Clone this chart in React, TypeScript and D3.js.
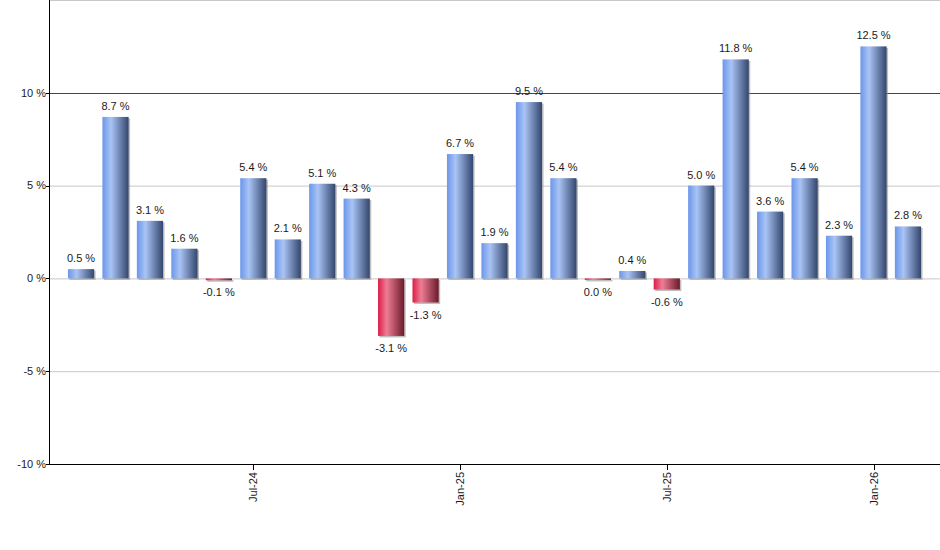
import React from "react";
import * as d3 from "d3";

const months = ["Feb-24","Mar-24","Apr-24","May-24","Jun-24","Jul-24","Aug-24","Sep-24","Oct-24","Nov-24","Dec-24","Jan-25","Feb-25","Mar-25","Apr-25","May-25","Jun-25","Jul-25","Aug-25","Sep-25","Oct-25","Nov-25","Dec-25","Jan-26","Feb-26"];
const values = [0.5, 8.7, 3.1, 1.6, -0.1, 5.4, 2.1, 5.1, 4.3, -3.1, -1.3, 6.7, 1.9, 9.5, 5.4, -0.04, 0.4, -0.6, 5.0, 11.8, 3.6, 5.4, 2.3, 12.5, 2.8];
const yTicks = [-10, -5, 0, 5, 10];
const gridValues = [15, 5, 0, -5];
const xTickLabels = ["Jul-24", "Jan-25", "Jul-25", "Jan-26"];

const W = 940, H = 550;
const left = 49, right = 940, top = 0, bottom = 464;
const font = "'Liberation Sans', Arial, sans-serif";

function fmt(v: number) {
  const s = v.toFixed(1);
  return (s === "-0.0" ? "0.0" : s) + " %";
}

export default function App() {
  const x = d3.scaleBand<string>().domain(months).range([left, right]).paddingInner(0.24).paddingOuter(0.55);
  const y = d3.scaleLinear().domain([-10, 15]).range([bottom, top]);
  const bw = x.bandwidth();
  return (
    <svg width={W} height={H} style={{ position: "absolute", left: 0, top: 0, background: "#fff" }}>
      <defs>
        <linearGradient id="gBlue" x1="0" x2="1" y1="0" y2="0">
          <stop offset="0%" stopColor="#6b96ea" />
          <stop offset="33%" stopColor="#a9c4f5" />
          <stop offset="100%" stopColor="#33466d" />
        </linearGradient>
        <linearGradient id="gRed" x1="0" x2="1" y1="0" y2="0">
          <stop offset="0%" stopColor="#dc1d47" />
          <stop offset="33%" stopColor="#ee7d93" />
          <stop offset="100%" stopColor="#6a1a2b" />
        </linearGradient>
      </defs>
      {gridValues.map((v) => (
        <line key={"g" + v} x1={left} x2={right} y1={y(v) + 0.5} y2={y(v) + 0.5} stroke="#c8c8c8" strokeWidth={1} />
      ))}
      <line x1={left} x2={right} y1={Math.round(y(10)) + 0.5} y2={Math.round(y(10)) + 0.5} stroke="#0a6e0a" strokeWidth={1} />
      {values.map((v, i) => {
        const bx = x(months[i])!;
        const y0 = y(0), y1 = y(v);
        const ry = Math.min(y0, y1);
        const rh = Math.max(Math.abs(y1 - y0), 1.5);
        return (
          <g key={"b" + i}>
            <rect x={bx + 1.5} y={ry + 1.5} width={bw} height={rh} fill="#8a8a8a" opacity={0.55} />
            <rect x={bx} y={ry} width={bw} height={rh} fill={v < 0 ? "url(#gRed)" : "url(#gBlue)"} />
          </g>
        );
      })}
      {values.map((v, i) => {
        const cx = x(months[i])! + bw / 2;
        const yy = v < 0 ? Math.max(y(v), y(0) + 1.5) + 16 : y(v) - 7;
        return (
          <text key={"l" + i} x={cx} y={yy} textAnchor="middle" fontFamily={font} fontSize={11} fill="#1a1a1a">
            {fmt(v)}
          </text>
        );
      })}
      <line x1={left + 0.5} x2={left + 0.5} y1={top} y2={bottom} stroke="#000" strokeWidth={1} />
      <line x1={left} x2={right} y1={bottom + 0.5} y2={bottom + 0.5} stroke="#000" strokeWidth={1} />
      {yTicks.map((t) => (
        <g key={"yt" + t}>
          <line x1={left - 3} x2={left} y1={Math.round(y(t)) + 0.5} y2={Math.round(y(t)) + 0.5} stroke="#000" />
          <text x={left - 3} y={y(t)} dy="0.35em" textAnchor="end" fontFamily={font} fontSize={11} fill="#1a1a1a">
            {t + " %"}
          </text>
        </g>
      ))}
      {xTickLabels.map((m) => {
        const cx = Math.round(x(m)! + bw / 2) + 0.5;
        return (
          <g key={"xt" + m}>
            <line x1={cx} x2={cx} y1={bottom} y2={bottom + 6} stroke="#000" />
            <text transform={`translate(${cx},${bottom + 8}) rotate(-90)`} dy="0.35em" textAnchor="end" fontFamily={font} fontSize={11} fill="#1a1a1a">
              {m}
            </text>
          </g>
        );
      })}
    </svg>
  );
}
